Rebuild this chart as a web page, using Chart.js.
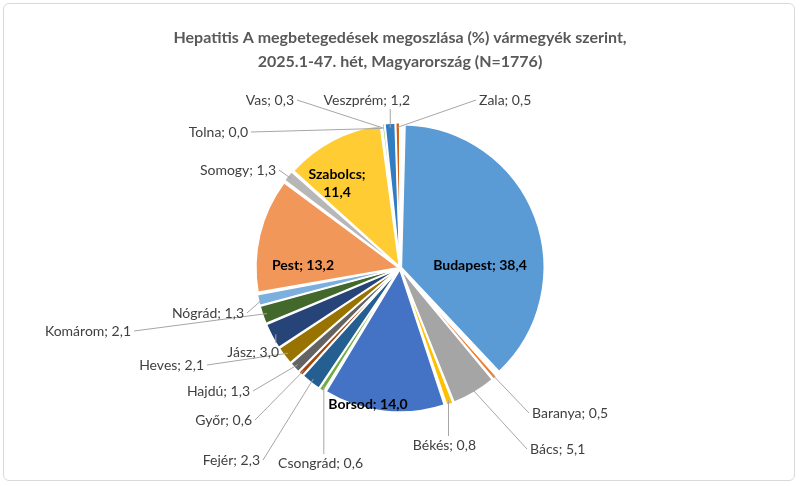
<!DOCTYPE html>
<html><head><meta charset="utf-8">
<script src="https://cdn.jsdelivr.net/npm/chart.js@4"></script>
<style>
body{margin:0;background:#fff}
#wrap{width:800px;height:486px;position:relative}
#frame{position:absolute;left:3px;top:3px;width:792px;height:478px;border:1px solid #d9d9d9;border-radius:6px;box-sizing:border-box}
</style></head>
<body><div id="wrap"><div id="frame"></div><canvas id="c" width="800" height="486"></canvas></div>
<script>
const counties = ['Budapest','Baranya','Bács','Békés','Borsod','Csongrád','Fejér','Győr','Hajdú','Heves','Jász','Komárom','Nógrád','Pest','Somogy','Szabolcs','Tolna','Vas','Veszprém','Zala'];
const shares = [38.4,0.5,5.1,0.8,14.0,0.6,2.3,0.6,1.3,2.1,3.0,2.1,1.3,13.2,1.3,11.4,0.0,0.3,1.2,0.5];
const colors = ['#5B9BD5','#ED7D31','#A5A5A5','#FFC000','#4472C4','#70AD47','#255E91','#9E480E','#636363','#997300','#264478','#43682B','#7CAFDD','#F1975A','#B7B7B7','#FFCD33','#698ED0','#8CC168','#327DC2','#D26012'];
const titleLines = ['Hepatitis A megbetegedések megoszlása (%) vármegyék szerint,','2025.1-47. hét, Magyarország (N=1776)'];

// label layout: inside labels (bold) or outside labels with text anchor [x, y, align]
const insideLabels = {0:[480,265], 4:[368,404], 13:[303,265], 15:[337,183]};
const outsideLabels = {
  1:[530,413,'left'], 2:[528,449,'left'], 3:[478,445,'right'], 5:[365,463,'right'],
  6:[262,460,'right'], 7:[254,420,'right'], 8:[252,391,'right'], 9:[206,365,'right'],
  10:[281,352,'right'], 11:[133,331,'right'], 12:[246,313,'right'], 14:[278,170,'right'],
  16:[250,132,'right'], 17:[296,100,'right'], 18:[412,100,'right'], 19:[477,100,'left']
};
const fmt = v => v.toFixed(1).replace('.', ',');

const labelPlugin = {
  id: 'labels',
  afterDatasetsDraw(chart) {
    const ctx = chart.ctx;
    ctx.save();
    ctx.fillStyle = '#595959';
    ctx.font = 'bold 16px Lato';
    ctx.textAlign = 'center';
    ctx.textBaseline = 'middle';
    ctx.fillText(titleLines[0], 400, 38);
    ctx.fillText(titleLines[1], 400, 62);
    const arcs = chart.getDatasetMeta(0).data;
    arcs.forEach((a, i) => {
      const txt = counties[i] + '; ' + fmt(shares[i]);
      if (insideLabels[i]) {
        const [x, y] = insideLabels[i];
        ctx.font = 'bold 14px Lato';
        ctx.fillStyle = '#000';
        ctx.textAlign = 'center';
        if (i === 15) {
          ctx.fillText(counties[i] + ';', x, y - 9);
          ctx.fillText(fmt(shares[i]), x, y + 9);
        } else ctx.fillText(txt, x, y);
        return;
      }
      const lp = outsideLabels[i];
      if (!lp) return;
      const [x, y, align] = lp;
      const mid = (a.startAngle + a.endAngle) / 2;
      const r = a.outerRadius;
      const ex = a.x + Math.cos(mid) * r, ey = a.y + Math.sin(mid) * r;
      ctx.font = '14px Lato';
      const w = ctx.measureText(txt).width;
      const x0 = align === 'left' ? x + 2 : x - 2 - w;
      const x1 = x0 + w;
      let lx, ly;
      if (y > ey + 15 && ex >= x0 && ex <= x1) { lx = ex; ly = y - 9; }
      else if (y < ey - 15 && ex >= x0 && ex <= x1) { lx = ex; ly = y + 9; }
      else { lx = ex > x1 ? x1 + 3 : x0 - 3; ly = y; }
      ctx.strokeStyle = '#a6a6a6';
      ctx.lineWidth = 1;
      ctx.beginPath();
      ctx.moveTo(ex, ey);
      ctx.lineTo(lx, ly);
      ctx.stroke();
      ctx.fillStyle = '#404040';
      ctx.textAlign = 'left';
      ctx.fillText(txt, x0, y);
    });
    ctx.restore();
  }
};

new Chart(document.getElementById('c'), {
  type: 'pie',
  data: {
    labels: counties,
    datasets: [{
      data: shares,
      backgroundColor: colors,
      borderColor: '#fff',
      borderWidth: 1.5,
      spacing: 3,
      offset: 6
    }]
  },
  options: {
    responsive: false,
    animation: false,
    layout: { padding: { top: 122, bottom: 72, left: 250, right: 250 } },
    plugins: { legend: { display: false }, tooltip: { enabled: false } }
  },
  plugins: [labelPlugin]
});
</script></body></html>
